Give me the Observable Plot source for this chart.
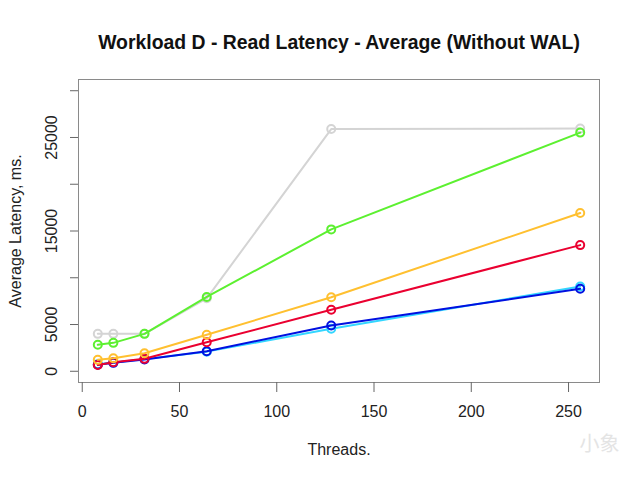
<!DOCTYPE html>
<html>
<head>
<meta charset="utf-8">
<script src="https://cdn.jsdelivr.net/npm/d3@7"></script>
<script src="https://cdn.jsdelivr.net/npm/@observablehq/plot@0.6"></script>
<style>
  html, body { margin: 0; padding: 0; background: #fff; }
  svg { font-family: "Liberation Sans", Arial, sans-serif; }
</style>
</head>
<body>
<div id="chart"></div>
<script>
const threads = [8, 16, 32, 64, 128, 256];
const grayValues   = [4000, 4000, 4000, 7800, 25900, 25950];
const cyanValues   = [750, 950, 1300, 2100, 4540, 9070];
const blueValues   = [700, 900, 1250, 2140, 4890, 8820];
const redValues    = [680, 960, 1330, 3100, 6570, 13490];
const orangeValues = [1220, 1400, 1930, 3900, 7920, 16920];
const greenValues  = [2830, 3040, 4000, 7950, 15170, 25520];

const seriesNames  = ["gray", "cyan", "blue", "red", "orange", "green"];
const seriesColors = ["#d4d4d4", "#33d6ff", "#0010e0", "#ea0030", "#ffc030", "#5cf030"];
const seriesValues = [grayValues, cyanValues, blueValues, redValues, orangeValues, greenValues];

const xTicks = [0, 50, 100, 150, 200, 250];
const yTicks = [0, 5000, 10000, 15000, 20000, 25000, 30000];
const yTickLabels = [0, 5000, 15000, 25000];

const titleText = "Workload D - Read Latency - Average (Without WAL)";
const xLabel = "Threads.";
const yLabel = "Average Latency, ms.";
const watermark = ["小象"];

const xDomain = [8 - 0.04 * 248, 256 + 0.04 * 248];
const yDomain = [0 - 0.04 * 30000, 30000 + 0.04 * 30000];

const seriesMarks = [];
seriesNames.forEach((name, i) => {
  const rows = threads.map((t, j) => ({threads: t, latency: seriesValues[i][j], series: name}));
  seriesMarks.push(Plot.line(rows, {x: "threads", y: "latency", stroke: seriesColors[i], strokeWidth: 2}));
  seriesMarks.push(Plot.dot(rows, {x: "threads", y: "latency", stroke: seriesColors[i], r: 4, strokeWidth: 2, fill: "none"}));
});

const chart = Plot.plot({
  width: 640,
  height: 480,
  marginLeft: 78,
  marginRight: 41,
  marginTop: 79,
  marginBottom: 98,
  style: {background: "#fff", fontFamily: "Liberation Sans, Arial, sans-serif"},
  x: {domain: xDomain, label: null},
  y: {domain: yDomain, label: null},
  marks: [
    Plot.frame({stroke: "#8a8a8a", strokeWidth: 1}),
    Plot.axisX({ticks: xTicks, tickSize: 10, tickPadding: 13, fontSize: 16, label: null, stroke: "#666", color: "#222"}),
    Plot.axisY({ticks: yTicks, tickSize: 8, tickFormat: () => "", label: null, stroke: "#666"}),
    Plot.text(yTickLabels, {y: d => d, text: d => String(d), frameAnchor: "left", dx: -27, rotate: -90, textAnchor: "middle", fontSize: 16, fill: "#222"}),
    Plot.text([yLabel], {y: () => 15000, text: d => d, frameAnchor: "left", dx: -63, rotate: -90, textAnchor: "middle", fontSize: 16, fill: "#222"}),
    Plot.text([xLabel], {text: d => d, frameAnchor: "bottom", dy: 72, fontSize: 16, fill: "#222"}),
    Plot.text([titleText], {text: d => d, frameAnchor: "top", dy: -44, fontSize: 19.4, fontWeight: "bold", fill: "#111"}),
    Plot.text(watermark, {text: d => d, frameAnchor: "bottom-right", textAnchor: "middle", dx: 0, dy: 68, fontSize: 20, fill: "#e4e4e4", fontFamily: "Noto Sans CJK SC"}),
    ...seriesMarks
  ]
});
document.getElementById("chart").appendChild(chart);
</script>
</body>
</html>
